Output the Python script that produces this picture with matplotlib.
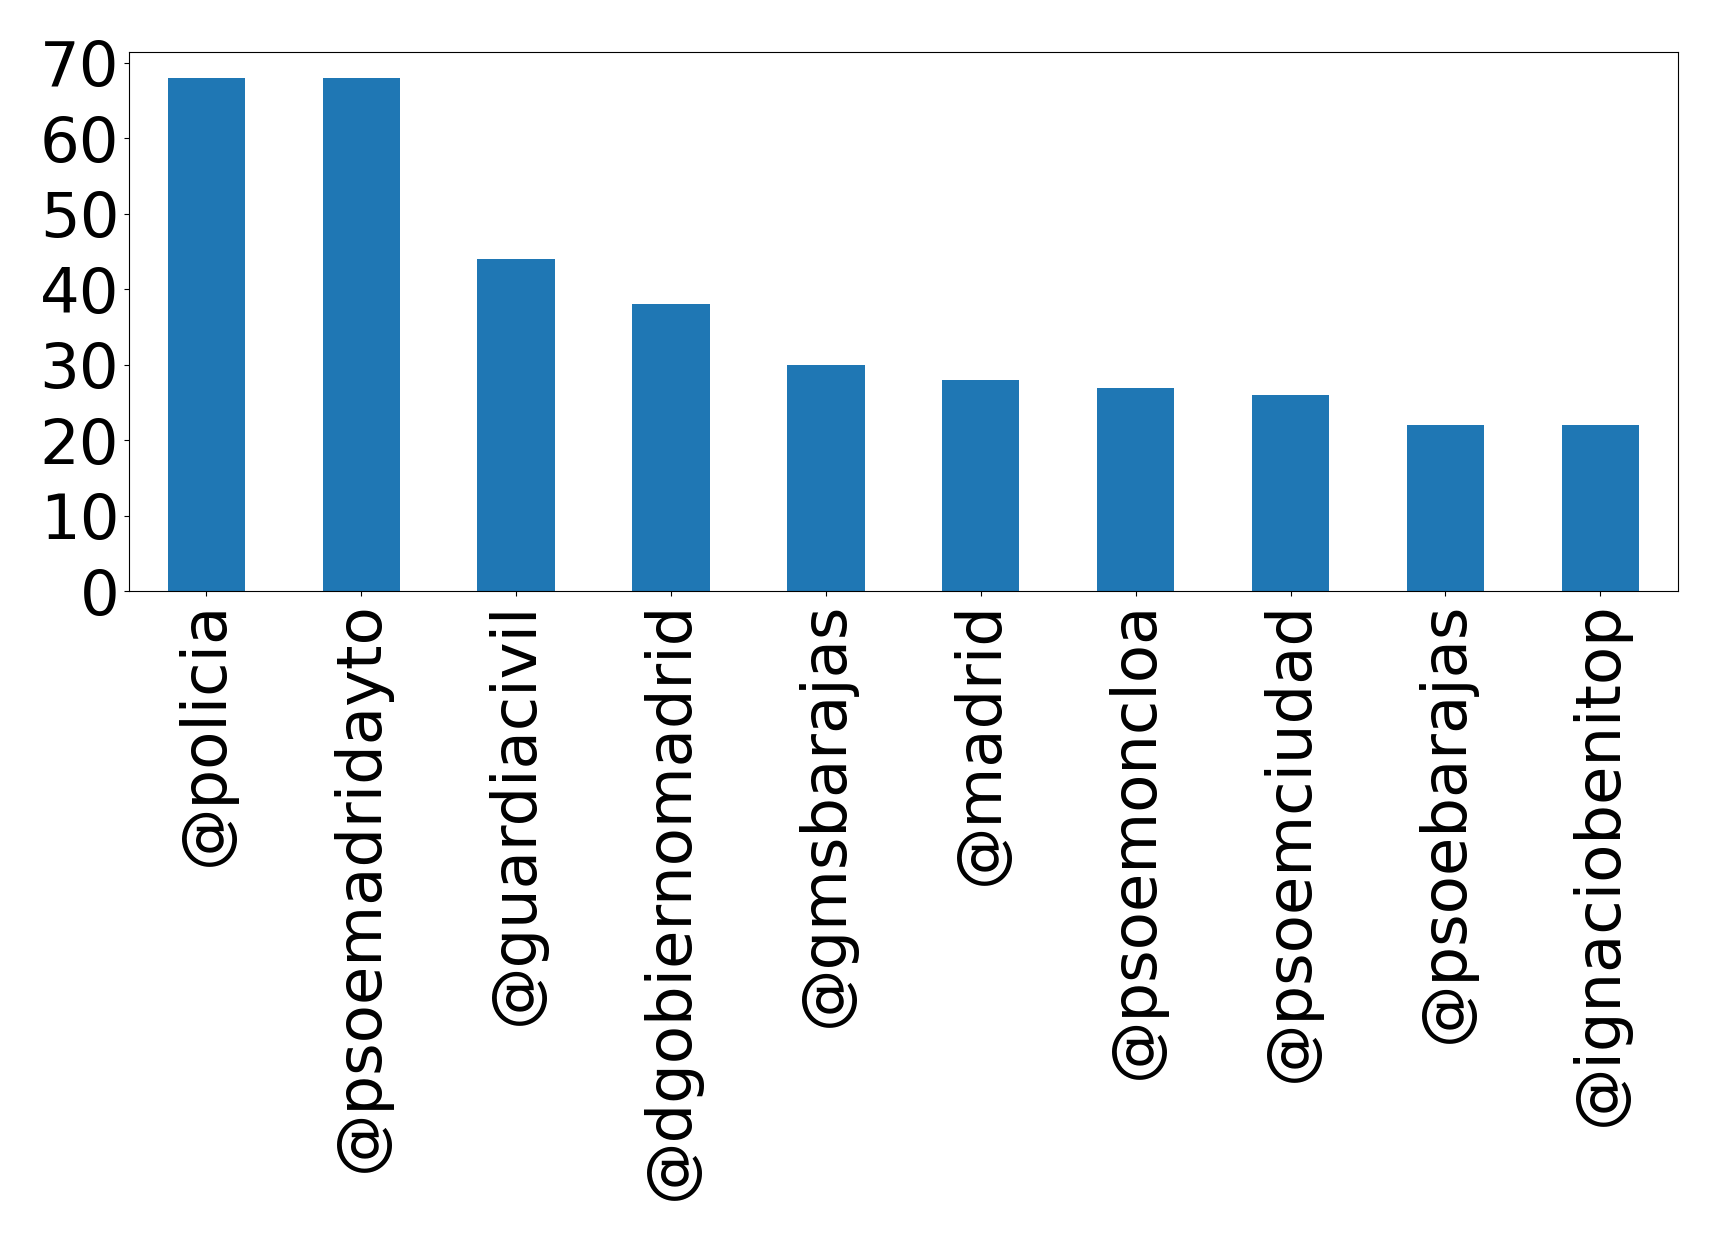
import matplotlib
matplotlib.use('Agg')
import matplotlib.pyplot as plt

users = ['@policia', '@psoemadridayto', '@guardiacivil', '@dgobiernomadrid',
         '@gmsbarajas', '@madrid', '@psoemoncloa', '@psoemciudad',
         '@psoebarajas', '@ignaciobenitop']
counts = [68, 68, 44, 38, 30, 28, 27, 26, 22, 22]

fig, ax = plt.subplots(figsize=(17.19, 12.40), dpi=100)
ax.bar(range(len(users)), counts, width=0.5, color='#1f77b4')
ax.set_xlim(-0.5, len(users) - 0.5)
ax.set_xticks(range(len(users)))
ax.set_xticklabels(users, rotation=90)
ax.tick_params(axis='both', labelsize=45)
ax.set_yticks(range(0, 71, 10))
plt.subplots_adjust(left=0.075, right=0.976, top=0.958, bottom=0.523)
plt.savefig('out.png')
